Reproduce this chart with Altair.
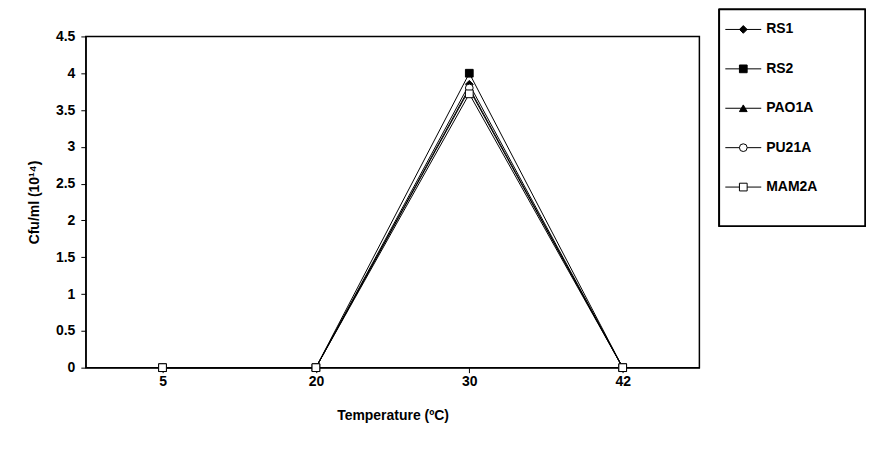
import altair as alt
import pandas as pd

temps = ["5", "20", "30", "42"]
series = ["RS1", "RS2", "PAO1A", "PU21A", "MAM2A"]
values = {
    "RS1":   [0, 0, 3.85, 0],
    "RS2":   [0, 0, 4.0, 0],
    "PAO1A": [0, 0, 3.78, 0],
    "PU21A": [0, 0, 3.8, 0],
    "MAM2A": [0, 0, 3.72, 0],
}
shapes = ["diamond", "square", "triangle-up", "circle", "square"]
fills = ["black", "black", "black", "white", "white"]

rows = [{"t": t, "s": s, "v": v} for s in series for t, v in zip(temps, values[s])]
df = pd.DataFrame(rows)
leg = pd.DataFrame({"s": series})

F = "Arial"
xenc = alt.X("t:O", sort=temps, scale=alt.Scale(type="point", padding=0.5),
             axis=alt.Axis(title="Temperature (ºC)", labelAngle=0, labelFontWeight="bold",
                           titleFontWeight="bold", labelFontSize=14, titleFontSize=14,
                           labelColor="black", titleColor="black", domainColor="black",
                           tickColor="black", titlePadding=20, labelPadding=2))
yenc = alt.Y("v:Q", scale=alt.Scale(domain=[0, 4.5]),
             axis=alt.Axis(title="Cfu/ml (10¹⁴)", values=[i * 0.5 for i in range(10)],
                           format="~g", grid=False, labelFontWeight="bold", titleFontWeight="bold",
                           labelFontSize=14, titleFontSize=14, labelColor="black", titleColor="black",
                           domainColor="black", tickColor="black", titlePadding=14, labelPadding=6))
shp = alt.Shape("s:N", sort=series, scale=alt.Scale(domain=series, range=shapes), legend=None)
fil = alt.Fill("s:N", sort=series, scale=alt.Scale(domain=series, range=fills), legend=None)

base = alt.Chart(df)
lines = base.mark_line(color="black", strokeWidth=1).encode(x=xenc, y=yenc, detail="s:N")
pts = base.mark_point(stroke="black", strokeWidth=1, size=60, opacity=1).encode(
    x=xenc, y=yenc, shape=shp, fill=fil)
main = alt.layer(lines, pts).properties(width=615, height=332)

lb = alt.Chart(leg)
ly = alt.Y("s:N", sort=series, scale=alt.Scale(type="point", range=[-7, 151], padding=0), axis=None)
box = lb.mark_rect(fill="white", stroke="black", strokeWidth=1.5).encode(
    x=alt.value(0), x2=alt.value(146), y=alt.value(-27), y2=alt.value(190))
lrule = lb.mark_rule(color="black", strokeWidth=1).encode(
    x=alt.value(6), x2=alt.value(42), y=ly)
lpt = lb.mark_point(stroke="black", strokeWidth=1, size=60, opacity=1).encode(
    x=alt.value(24), y=ly, shape=shp, fill=fil)
ltx = lb.mark_text(align="left", baseline="middle", font=F, fontWeight="bold",
                   fontSize=14, color="black").encode(x=alt.value(47), y=ly, text="s:N")
legend = alt.layer(box, lrule, lpt, ltx).properties(
    width=146, height=332, view=alt.ViewBackground(strokeOpacity=0))

chart = alt.hconcat(main, legend).configure(
    font=F, padding={"top": 0, "left": 18, "right": 0, "bottom": 5}
).configure_view(stroke="black", strokeWidth=1.5).configure_concat(spacing=18)

chart.save("out.html", embed_options={"renderer": "svg", "actions": False})
